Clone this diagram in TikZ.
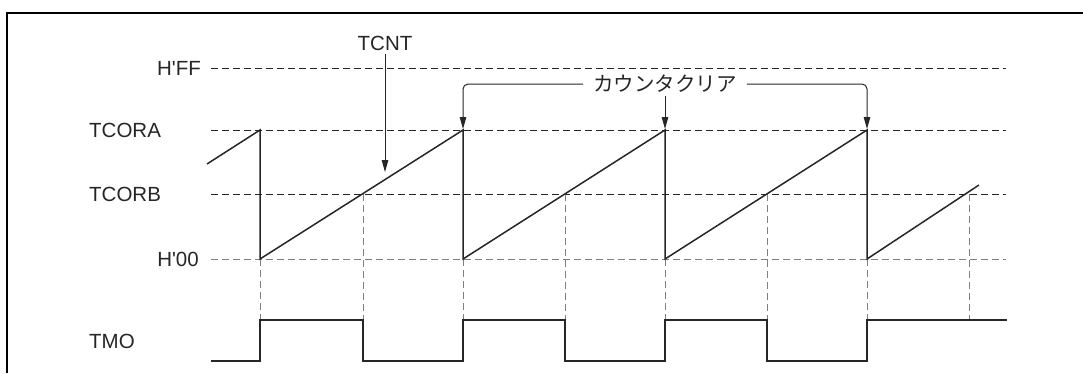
\documentclass[tikz,border=0pt]{standalone}
\usepackage{fontspec}
\setmainfont{Liberation Sans}
\newfontfamily\jpfont{Noto Sans CJK JP}
\usetikzlibrary{arrows.meta}
\begin{document}
\begin{tikzpicture}[x=1pt,y=-1pt,
  lbl/.style={inner sep=0pt,font=\fontsize{20.5}{22}\selectfont,text=black!85},
  jp/.style={inner xsep=10pt,inner ysep=0pt,font=\jpfont\fontsize{20.5}{22}\selectfont,text=black!85},
  sig/.style={line width=1.5pt,black!85,line join=miter},
  guide/.style={line width=1pt,black!85,dash pattern=on 6.5pt off 4.5pt},
  lguide/.style={line width=1pt,black!50,dash pattern=on 6.5pt off 4.5pt},
  arr/.style={line width=1pt,black!85,-{Triangle[length=12pt,width=6.5pt]}},
  frame/.style={line width=2pt,black}]
\useasboundingbox (0,0) rectangle (1083,373);
% frame (left and top edges)
\draw[frame] (7,373) -- (7,13) -- (1083,13);
% level coordinates
\coordinate (ffL) at (211,68);  \coordinate (ffR) at (1006,68);
\coordinate (aL) at (211,130);  \coordinate (aR) at (1006,130);
\coordinate (bL) at (211,194);  \coordinate (bR) at (1006,194);
\coordinate (zL) at (211,259);  \coordinate (zR) at (1006,259);
% labels
\node[lbl,anchor=east] (hff) at (201,68) {H\textquotesingle FF};
\node[lbl,anchor=west] (tcora) at (89,130) {TCORA};
\node[lbl,anchor=west] (tcorb) at (89,194) {TCORB};
\node[lbl,anchor=east] (h00) at (199,259) {H\textquotesingle 00};
\node[lbl,anchor=west] (tmo) at (89,341) {TMO};
% horizontal guides
\draw[guide] (ffL) -- (ffR);
\draw[guide] (aL) -- (aR);
\draw[guide] (bL) -- (bR);
\draw[lguide] (zL) -- (zR);
% vertical guides
\foreach \x in {260,463,665,867} \draw[lguide] (\x,259) -- (\x,320);
\foreach \x in {363,565,767,969} \draw[lguide] (\x,194) -- (\x,320);
% sawtooth TCNT
\draw[sig] (207,164) -- (260,130) -- (260,259) -- (463,130) -- (463,259)
  -- (665,130) -- (665,259) -- (867,130) -- (867,259) -- (979,185);
% TMO
\draw[sig] (211,361) -- (260,361) -- (260,320) -- (363,320) -- (363,361)
  -- (463,361) -- (463,320) -- (565,320) -- (565,361) -- (665,361)
  -- (665,320) -- (767,320) -- (767,361) -- (867,361) -- (867,320) -- (1007,320);
% TCNT pointer
\node[lbl] (tcnt) at (385,43) {TCNT};
\coordinate (tcntTip) at (385,172);
\draw[arr] ([yshift=-4pt]tcnt.south) -- (tcntTip);
% counter clear
\node[jp] (clr) at (665,84) {カウンタクリア};
\coordinate (c1) at (463,129);
\coordinate (c2) at (665,129);
\coordinate (c3) at (867,129);
\draw[arr,rounded corners=5pt] (clr.west) -| (c1);
\draw[arr,rounded corners=5pt] (clr.east) -| (c3);
\draw[arr] ([yshift=-3pt]clr.south) -- (c2);
\end{tikzpicture}
\end{document}
